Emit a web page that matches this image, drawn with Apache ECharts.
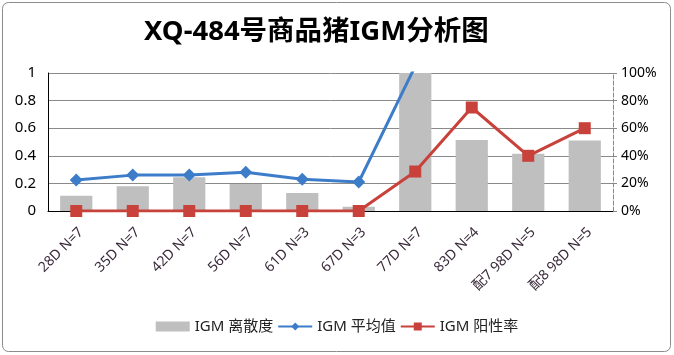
<!DOCTYPE html>
<html><head><meta charset="utf-8">
<script src="https://cdn.jsdelivr.net/npm/echarts@6/dist/echarts.min.js"></script>
<style>html,body{margin:0;padding:0;background:#fff}#c{width:674px;height:355px}</style>
</head><body><div id="c"></div>
<script>
const categories = ["28D N=7","35D N=7","42D N=7","56D N=7","61D N=3","67D N=3","77D N=7","83D N=4","配7 98D N=5","配8 98D N=5"];
const dispersion = [0.11,0.18,0.245,0.195,0.13,0.03,1.0,0.515,0.415,0.51];
const meanValue = [0.225,0.26,0.26,0.28,0.23,0.21,1.05,1.4,1.3,1.35];
const positiveRate = [0,0,0,0,0,0,28.6,75,40,60];
const leftTicks = [0,0.2,0.4,0.6,0.8,1];
const rightTicks = [0,20,40,60,80,100];

const FONT = '"Noto Sans","Noto Sans CJK SC",sans-serif';
const chart = echarts.init(document.getElementById('c'));
chart.setOption({
  animation:false,
  backgroundColor:'#fff',
  title:{text:'XQ-484号商品猪IGM分析图',left:139,top:13,
    textStyle:{fontFamily:FONT,fontSize:27.5,fontWeight:'bold',color:'#000'}},
  graphic:[{type:'rect',shape:{x:2.5,y:2.5,width:668,height:349,r:6},
    style:{fill:'none',stroke:'#8c8c8c',lineWidth:1},silent:true}],
  grid:{left:48,right:61,top:73,bottom:144},
  legend:{bottom:16,left:'center',itemWidth:34,itemHeight:10,itemGap:4,
    textStyle:{fontFamily:FONT,fontSize:15,color:'#222'},
    data:[{name:'IGM 离散度',icon:'rect'},{name:'IGM 平均值'},{name:'IGM 阳性率'}]},
  xAxis:{type:'category',data:categories,
    axisLine:{lineStyle:{color:'#000',width:1}},axisTick:{show:false},
    axisLabel:{rotate:45,interval:0,margin:14,verticalAlign:'top',fontFamily:FONT,fontSize:14,color:'#3a2a3a'}},
  yAxis:[{type:'value',min:leftTicks[0],max:leftTicks[leftTicks.length-1],interval:0.2,
    axisLine:{show:true,lineStyle:{color:'#000'}},axisTick:{show:false},
    splitLine:{lineStyle:{color:'#8a8a8a'}},
    axisLabel:{fontFamily:FONT,fontSize:15,color:'#000',margin:12}},
   {type:'value',min:rightTicks[0],max:rightTicks[rightTicks.length-1],interval:20,
    axisLine:{show:true,lineStyle:{color:'#888',type:'dashed'}},
    axisTick:{show:true,length:4,lineStyle:{color:'#888'}},
    splitLine:{show:false},
    axisLabel:{formatter:'{value}%',fontFamily:FONT,fontSize:14,color:'#000',margin:8}}],
  series:[
    {name:'IGM 离散度',type:'bar',yAxisIndex:0,data:dispersion,barWidth:'57%',
     itemStyle:{color:'#bfbfbf'}},
    {name:'IGM 平均值',type:'line',yAxisIndex:0,data:meanValue,clip:true,
     symbol:'diamond',symbolSize:13,lineStyle:{color:'#3d7cc9',width:3},
     itemStyle:{color:'#3d7cc9'}},
    {name:'IGM 阳性率',type:'line',yAxisIndex:1,data:positiveRate,clip:true,
     symbol:'rect',symbolSize:12,lineStyle:{color:'#c8413b',width:3},
     itemStyle:{color:'#c8413b'}}
  ]
});
</script></body></html>
